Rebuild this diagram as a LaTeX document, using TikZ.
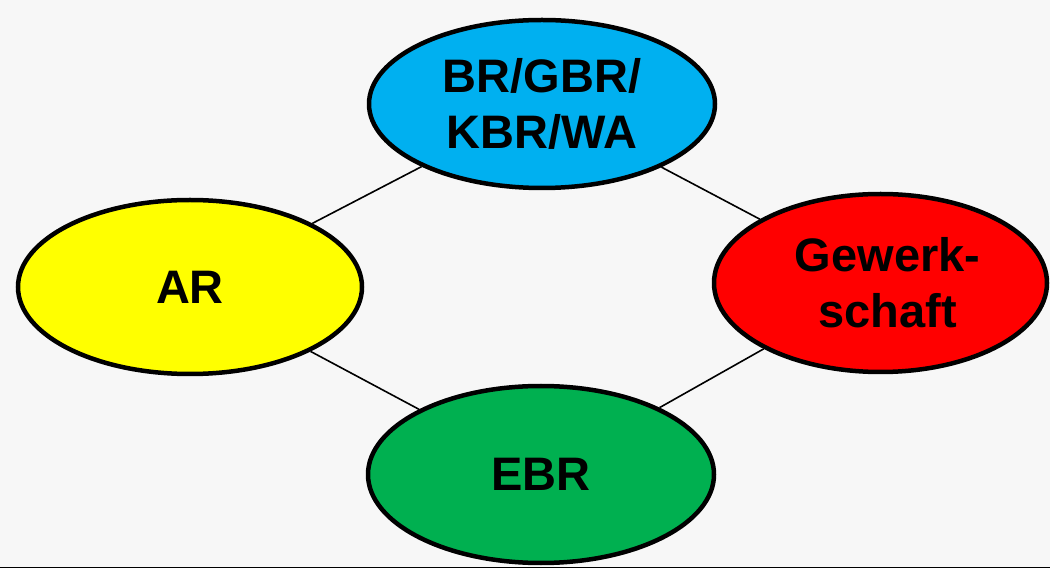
\documentclass[tikz,border=0pt]{standalone}
\usepackage{fontspec}
\setmainfont{Liberation Sans}
\usetikzlibrary{shapes.geometric}
\definecolor{bg}{HTML}{F7F7F7}
\definecolor{topblue}{HTML}{00B0F0}
\definecolor{aryellow}{HTML}{FFFF00}
\definecolor{gwred}{HTML}{FF0000}
\definecolor{ebrgreen}{HTML}{00B050}
\definecolor{baseline}{RGB}{107,190,150}
\tikzset{
  bubble/.style={ellipse, draw=black, line width=4.5pt, inner sep=0pt,
    align=center, font=\fontsize{47}{56}\selectfont\bfseries},
  link/.style={draw=black, line width=1.6pt}
}
\begin{document}
\begin{tikzpicture}[x=1pt,y=1pt]
  % canvas
  \fill[bg] (0,0) rectangle (1050,568);
  \useasboundingbox (0,0) rectangle (1050,568);
  \draw[baseline, line width=1pt] (0,0.5) -- (1050,0.5);

  % organs of co-determination
  \node[bubble, fill=topblue, minimum width=346pt, minimum height=168pt]
    (br) at (542,464) {BR/GBR/\\KBR/WA};
  \node[bubble, fill=aryellow, minimum width=344pt, minimum height=174pt]
    (ar) at (190,281) {AR};
  \node[bubble, fill=gwred, minimum width=333pt, minimum height=178pt]
    (gw) at (880.5,285) {\hspace*{14pt}Gewerk-\\\hspace*{14pt}schaft};
  \node[bubble, fill=ebrgreen, minimum width=346pt, minimum height=177pt]
    (ebr) at (541,93.5) {EBR};

  % connections
  \draw[link] (ar) -- (br);
  \draw[link] (br) -- (gw);
  \draw[link] (gw) -- (ebr);
  \draw[link] (ebr) -- (ar);
\end{tikzpicture}
\end{document}
